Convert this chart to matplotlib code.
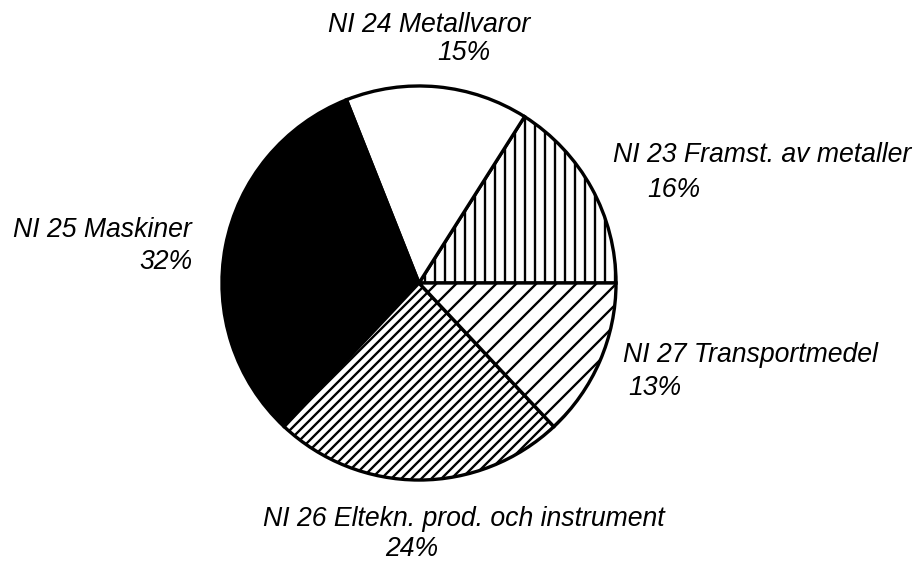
import matplotlib
matplotlib.use("Agg")
import matplotlib.pyplot as plt

# ---- data ----
categories = ["NI 23 Framst. av metaller", "NI 24 Metallvaror", "NI 25 Maskiner",
              "NI 26 Eltekn. prod. och instrument", "NI 27 Transportmedel"]
shares = [16, 15, 32, 24, 13]
pct_labels = ["16%", "15%", "32%", "24%", "13%"]

# ---- style ----
face_colors = ["white", "white", "black", "white", "white"]
hatches = ["||", None, None, "////", "//"]

DPI = 120
W, H = 922, 562
plt.rcParams["hatch.linewidth"] = 1.4
plt.rcParams["font.family"] = ["Liberation Sans", "DejaVu Sans"]

fig = plt.figure(figsize=(W / DPI, H / DPI), dpi=DPI)
fig.patch.set_facecolor("white")

cx, cy, r = 419, 283, 199  # pie centre / radius in pixels (top-left origin)
ax = fig.add_axes([(cx - r) / W, (H - cy - r) / H, 2 * r / W, 2 * r / H])

wedges, _ = ax.pie(shares, startangle=0, counterclock=True, radius=1,
                   colors=face_colors,
                   wedgeprops=dict(edgecolor="black", linewidth=2.0))
for w, h in zip(wedges, hatches):
    if h:
        w.set_hatch(h)
ax.set_xlim(-1.01, 1.01)
ax.set_ylim(-1.01, 1.01)
ax.set_aspect("equal")
ax.axis("off")

fs = 16
def t(x, y, s, ha="left"):
    fig.text(x / W, 1 - y / H, s, ha=ha, va="center", fontsize=fs, style="italic")

# NI 23
t(613, 155, categories[0]); t(647, 190, pct_labels[0])
# NI 24
t(530, 25, categories[1], ha="right"); t(464, 53, pct_labels[1], ha="center")
# NI 25
t(192, 230, categories[2], ha="right"); t(193, 262, pct_labels[2], ha="right")
# NI 26
t(263, 519, categories[3]); t(412, 549, pct_labels[3], ha="center")
# NI 27
t(623, 355, categories[4]); t(628, 388, pct_labels[4])

fig.savefig("out.png", dpi=DPI)
